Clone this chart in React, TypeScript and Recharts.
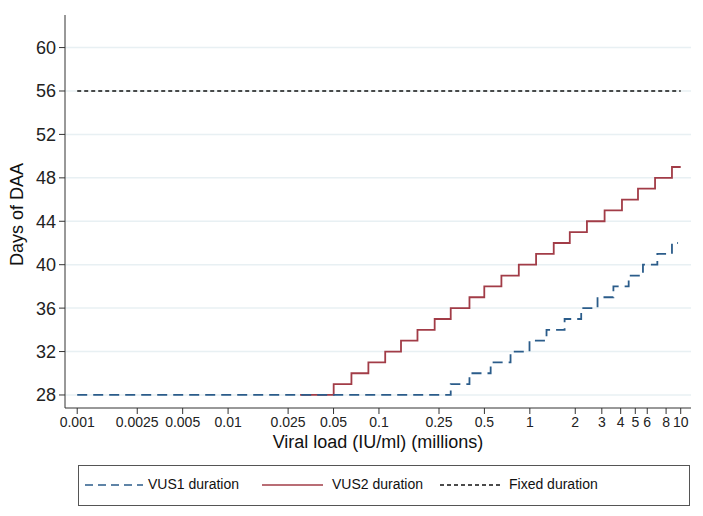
import { Line, LineChart, XAxis, YAxis, Label, ReferenceLine } from "recharts";

// step breakpoints (viral load in millions IU/ml)
const vus1Load = [0.001, 0.299, 0.398, 0.55, 0.745, 0.995, 1.29, 1.7, 2.19, 2.81, 3.58, 4.52, 5.62, 7.0, 8.75, 9.6];
const vus1Days = [28, 29, 30, 31, 32, 33, 34, 35, 36, 37, 38, 39, 40, 41, 42, 42];

const vus2Load = [
  0.03, 0.0501, 0.0657, 0.0851, 0.11, 0.14, 0.18, 0.234, 0.299, 0.398, 0.499, 0.648, 0.845, 1.1, 1.44, 1.84,
  2.39, 3.13, 4.08, 5.21, 6.76, 8.75, 10,
];
const vus2Days = [28, 29, 30, 31, 32, 33, 34, 35, 36, 37, 38, 39, 40, 41, 42, 43, 44, 45, 46, 47, 48, 49, 49];

const fixedLoad = [0.001, 10];
const fixedDays = [56, 56];

const xTicks = [0.001, 0.0025, 0.005, 0.01, 0.025, 0.05, 0.1, 0.25, 0.5, 1, 2, 3, 4, 5, 6, 8, 10];
const yTicks = [28, 32, 36, 40, 44, 48, 52, 56, 60];

const BLUE = "#2b5c8a";
const RED = "#a23c47";
const FONT = "'Liberation Sans', Arial, sans-serif";

const toPoints = (xs: number[], ys: number[]) => xs.map((x, i) => ({ x, y: ys[i] }));

const LegendSample = ({ color, dash, width }: { color: string; dash?: string; width: number }) => (
  <svg width={width} height={10} style={{ display: "block" }}>
    <line x1={0} y1={5} x2={width} y2={5} stroke={color} strokeWidth={1.6} strokeDasharray={dash} />
  </svg>
);

const App = () => {
  return (
    <div style={{ position: "absolute", left: 0, top: 0, width: 703, height: 516, background: "#fff", fontFamily: FONT }}>
      <LineChart width={703} height={516} margin={{ top: 15, right: 12, left: 0, bottom: 58 }}>
        {yTicks.map((t) => (
          <ReferenceLine key={t} y={t} stroke="#e8f0f3" strokeWidth={1.5} />
        ))}
        <XAxis
          type="number"
          dataKey="x"
          scale="log"
          domain={[0.00083, 11.7]}
          allowDataOverflow
          ticks={xTicks}
          tickFormatter={(v: number) => String(v)}
          interval={0}
          height={50}
          tickSize={6}
          tickMargin={3}
          stroke="#333"
          tick={{ fill: "#222", fontSize: 14, fontFamily: FONT }}
        >
          <Label
            content={({ viewBox }: any) => (
              <text
                x={viewBox.x + viewBox.width / 2}
                y={viewBox.y + 40}
                textAnchor="middle"
                fontSize={18}
                fill="#111"
                fontFamily={FONT}
              >
                Viral load (IU/ml) (millions)
              </text>
            )}
          />
        </XAxis>
        <YAxis
          type="number"
          dataKey="y"
          domain={[26.8, 63]}
          allowDataOverflow
          ticks={yTicks}
          width={65}
          tickSize={6}
          tickMargin={3}
          stroke="#333"
          tick={{ fill: "#222", fontSize: 18, fontFamily: FONT }}
        >
          <Label
            content={({ viewBox }: any) => (
              <text
                x={23}
                y={viewBox.y + viewBox.height / 2 + 3}
                textAnchor="middle"
                fontSize={18}
                fill="#111"
                fontFamily={FONT}
                transform={`rotate(-90, 23, ${viewBox.y + viewBox.height / 2 + 3})`}
              >
                Days of DAA
              </text>
            )}
          />
        </YAxis>
        <Line
          data={toPoints(fixedLoad, fixedDays)}
          dataKey="y"
          type="linear"
          stroke="#111"
          strokeWidth={1.6}
          strokeDasharray="4 3"
          dot={false}
          isAnimationActive={false}
        />
        <Line
          data={toPoints(vus2Load, vus2Days)}
          dataKey="y"
          type="stepAfter"
          stroke={RED}
          strokeWidth={1.8}
          dot={false}
          isAnimationActive={false}
        />
        <Line
          data={toPoints(vus1Load, vus1Days)}
          dataKey="y"
          type="stepAfter"
          stroke={BLUE}
          strokeWidth={1.8}
          strokeDasharray="10 6"
          dot={false}
          isAnimationActive={false}
        />
      </LineChart>
      <div
        style={{
          position: "absolute",
          left: 78,
          top: 465,
          width: 612,
          height: 41,
          border: "1px solid #555",
          boxSizing: "border-box",
          fontSize: 14,
          color: "#111",
        }}
      >
        <div style={{ position: "absolute", left: 6, top: 14 }}>
          <LegendSample color={BLUE} dash="8 5" width={58} />
        </div>
        <span style={{ position: "absolute", left: 69, top: 10 }}>VUS1 duration</span>
        <div style={{ position: "absolute", left: 183, top: 14 }}>
          <LegendSample color={RED} width={61} />
        </div>
        <span style={{ position: "absolute", left: 253, top: 10 }}>VUS2 duration</span>
        <div style={{ position: "absolute", left: 361, top: 14 }}>
          <LegendSample color="#111" dash="4 3" width={60} />
        </div>
        <span style={{ position: "absolute", left: 430, top: 10 }}>Fixed duration</span>
      </div>
    </div>
  );
};

export default App;
